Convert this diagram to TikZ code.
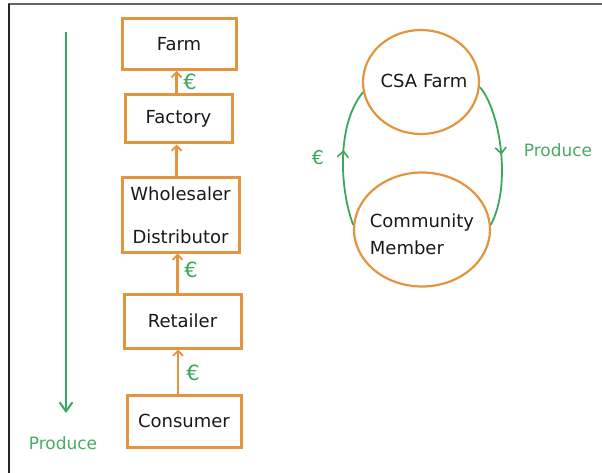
\documentclass[tikz,border=0pt]{standalone}
\usepackage{fontspec}
\setmainfont{DejaVu Sans}
\usetikzlibrary{arrows.meta,decorations.markings,calc,shapes.geometric}
\definecolor{boxorange}{RGB}{228,148,62}
\definecolor{flowgreen}{RGB}{58,168,92}
\definecolor{txtgreen}{RGB}{72,172,100}
\definecolor{ink}{RGB}{25,25,25}
\begin{document}
\begin{tikzpicture}[x=1pt,y=-1pt,
  box/.style={draw=boxorange,line width=3pt,rectangle,inner sep=0pt,text=ink,font=\fontsize{18}{20}\selectfont},
  oval/.style={draw=boxorange,line width=2.2pt,ellipse,inner sep=0pt},
  up/.style={draw=boxorange,line width=2.6pt,-{Straight Barb[length=5pt,width=10pt,line width=1.8pt]}},
  eur/.style={text=flowgreen,font=\fontsize{21}{22}\selectfont},
  gflow/.style={draw=flowgreen,line width=1.8pt},
  gtext/.style={text=txtgreen,font=\fontsize{17}{20}\selectfont},
  midarrow/.style={postaction={decorate},decoration={markings,mark=at position #1 with {\arrow{Straight Barb[length=6pt,width=11pt,line width=1.6pt]}}}}
]
\useasboundingbox (0,0) rectangle (602,473);
\fill[white] (0,0) rectangle (602,473);
% window frame
\draw[line width=2pt,gray!80!black] (8,4.5) -- (602,4.5);
\draw[line width=2pt,black!85] (9,4) -- (9,473);

% left chain
\node[box,minimum width=114pt,minimum height=51pt] (farm) at (179,44) {Farm};
\node[box,minimum width=107pt,minimum height=48pt] (factory) at (178.5,119) {Factory};
\node[box,minimum width=117pt,minimum height=74pt,align=center,font=\fontsize{18}{43}\selectfont] (whole) at (180.5,215) {Wholesaler\\Distributor};
\node[box,minimum width=117pt,minimum height=54pt] (retail) at (182.5,321) {Retailer};
\node[box,minimum width=114pt,minimum height=52pt] (consumer) at (184,421) {Consumer};

\coordinate (a1) at ($(factory.north)+(-2,0)$);
\coordinate (a2) at ($(whole.north)+(-4,0)$);
\coordinate (a3) at ($(retail.north)+(-5,0)$);
\coordinate (a4) at ($(consumer.north)+(-6,0)$);
\draw[up] (a1) -- (a1 |- farm.south);
\draw[up] (a2) -- (a2 |- factory.south);
\draw[up] (a3) -- (a3 |- whole.south);
\draw[up] (a4) -- (a4 |- retail.south);

\node[eur] (e1) at (190,82) {€};
\node[eur] (e2) at (191,270) {€};
\node[eur] (e3) at (193,373) {€};

% produce flow
\coordinate (ptop) at (66,32);
\coordinate (pbot) at (66,413);
\draw[gflow,line width=2.8pt,-{Straight Barb[length=9pt,width=13pt,line width=2pt]}] (ptop) -- (pbot);
\node[gtext] (prod1) at (63,443) {Produce};

% CSA loop
\node[oval,minimum width=116pt,minimum height=104pt] (csa) at (421,82) {};
\node[text=ink,font=\fontsize{18}{20}\selectfont] (csalabel) at (424,81) {CSA Farm};
\node[oval,minimum width=136pt,minimum height=114pt] (member) at (422,229.5) {};
\node[text=ink,font=\fontsize{18}{27}\selectfont,align=left] (memberlabel) at (422,234) {Community\\Member};

\draw[gflow,midarrow=0.55] (member.176) .. controls (340,190) and (336,125) .. (csa.190);
\draw[gflow,midarrow=0.5] (csa.-5) .. controls (500,110) and (512,185) .. (member.4);

\node[eur,font=\fontsize{19}{20}\selectfont] (e4) at (318,158) {€};
\node[gtext] (prod2) at (558,150) {Produce};
\end{tikzpicture}
\end{document}
